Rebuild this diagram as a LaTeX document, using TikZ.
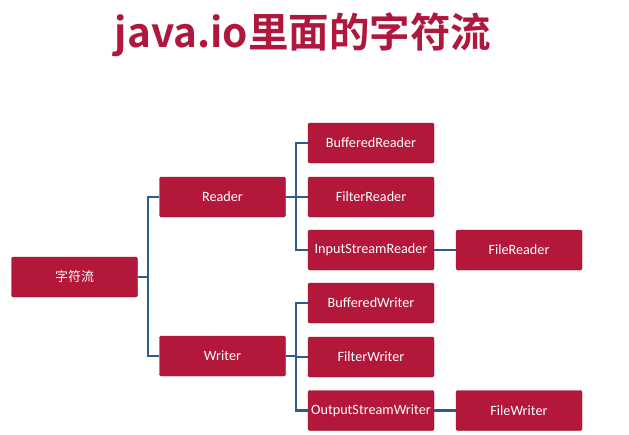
\documentclass[tikz,border=0pt]{standalone}
\usepackage{fontspec}
\setmainfont{Carlito}
\newfontfamily\cjk{Noto Sans CJK SC}
\newfontfamily\cjkb{Noto Sans CJK SC Bold}
\definecolor{boxred}{HTML}{B3173A}
\definecolor{titlered}{HTML}{B0173C}
\definecolor{linkblue}{HTML}{2E5A8C}
\begin{document}
\begin{tikzpicture}[x=1pt,y=-1pt,
  box/.style={fill=boxred, draw=boxred!80!black, line width=0.4pt, rounded corners=1.5pt,
    minimum width=126pt, minimum height=40pt, inner sep=0pt, text=white, font=\fontsize{14.2}{16}\selectfont},
  link/.style={draw=linkblue, line width=2.6pt}]
\useasboundingbox (0,0) rectangle (629,434);
\node[text=titlered, font=\cjkb\fontsize{40.5}{44}\selectfont] (title) at (303,35) {java.io里面的字符流};
\node[box] (root) at (74.5,277) {\cjk\fontsize{13}{15}\selectfont 字符流};
\node[box] (reader) at (222.5,197) {Reader};
\node[box] (writer) at (222.5,356) {Writer};
\node[box] (br) at (371,143) {BufferedReader};
\node[box] (fr) at (371,197) {FilterReader};
\node[box] (isr) at (371,250) {InputStreamReader};
\node[box] (bw) at (371,303) {BufferedWriter};
\node[box] (fw) at (371,357) {FilterWriter};
\node[box] (osw) at (371,410.5) {OutputStreamWriter};
\node[box] (filer) at (519,250) {FileReader};
\node[box] (filew) at (519,410.5) {FileWriter};
\draw[link] (root.east) -- (148,277);
\draw[link] (reader.west) -| (148,277) |- (writer.west);
\draw[link] (reader.east) -- (296,197);
\draw[link] (br.west) -| (296,197) |- (isr.west);
\draw[link] (fr.west) -- (296,197);
\draw[link] (writer.east) -- (296,356);
\draw[link] (bw.west) -| (296,356) |- (osw.west);
\draw[link] (fw.west) -- (296,357);
\draw[link] (isr.east) -- (filer.west);
\draw[link] (osw.east) -- (filew.west);
\end{tikzpicture}
\end{document}
